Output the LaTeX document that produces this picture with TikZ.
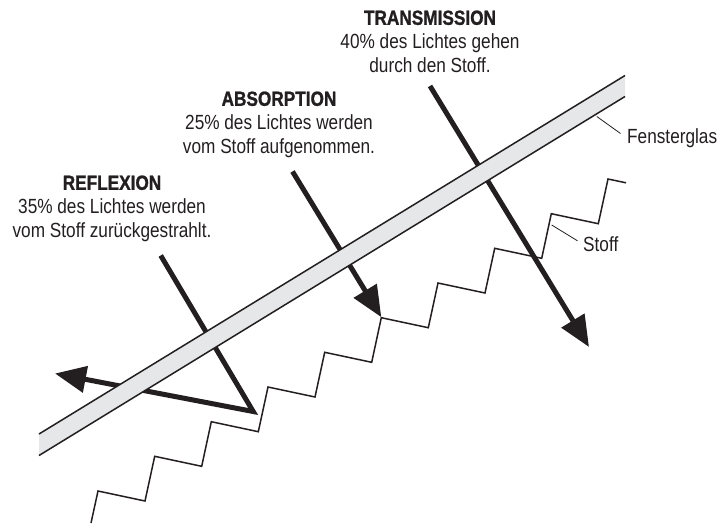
\documentclass[tikz,border=0pt]{standalone}
\usepackage{fontspec}
\setmainfont{Liberation Sans}[FakeStretch=0.84, BoldFeatures={FakeBold=1.2}]
\usetikzlibrary{arrows.meta}
\definecolor{ink}{HTML}{231F20}
\definecolor{glassfill}{HTML}{E6E7E8}
\tikzset{
  ray/.style={draw=ink, line width=5pt, line join=miter,
    -{Triangle[length=31pt,width=26pt]}},
  glassedge/.style={draw=ink, line width=1.5pt},
  stoffline/.style={draw=ink, line width=1.5pt, line join=miter},
  leader/.style={draw=ink, line width=0.8pt},
  txt/.style={font=\fontsize{20.5}{24}\selectfont, text=ink, align=center, inner sep=0pt},
  sidelabel/.style={font=\fontsize{20.5}{24}\selectfont, text=ink, inner sep=0pt}
}
\begin{document}
\begin{tikzpicture}[x=1pt,y=-1pt]
\useasboundingbox (0,0) rectangle (720,523);

% Stoff (zigzag)
\draw[stoffline] (91,523) -- (98,491) -- (145,501) -- (154.7,456.3) -- (201.7,466.3)
  -- (211.3,421.7) -- (258.3,431.7) -- (268,387) -- (315,397) -- (324.7,352.3)
  -- (371.7,362.3) -- (381.3,317.7) -- (428.3,327.7) -- (438,283) -- (485,293)
  -- (494.7,248.3) -- (541.7,258.3) -- (551.3,213.7) -- (598.3,223.7)
  -- (608,179) -- (626,182.8);

% rays
\coordinate (rS) at (160.7,255.5);
\coordinate (rV) at (253.2,411.5);
\coordinate (rE) at (55,373.5);
\coordinate (aS) at (292.5,171.5);
\coordinate (aE) at (381.3,317.2);
\coordinate (tS) at (430,86);
\coordinate (tE) at (589,347);
\draw[ray] (rS) -- (rV) -- (rE);
\draw[ray] (aS) -- (aE);
\draw[ray] (tS) -- (tE);

% Fensterglas band
\coordinate (gUL) at (39,434);
\coordinate (gUR) at (625,75.5);
\coordinate (gLR) at (625,96.5);
\coordinate (gLL) at (39,455.5);
\fill[glassfill] (gUL) -- (gUR) -- (gLR) -- (gLL) -- cycle;
\draw[glassedge] (gUL) -- (gUR);
\draw[glassedge] (gLL) -- (gLR);

% labels
\node[txt, anchor=north] (trans) at (430,10.3)
  {\textbf{TRANSMISSION}\\40\% des Lichtes gehen\\durch den Stoff.};
\node[txt, anchor=north] (abs) at (279,91.3)
  {\textbf{ABSORPTION}\\25\% des Lichtes werden\\vom Stoff aufgenommen.};
\node[txt, anchor=north] (refl) at (112,175.3)
  {\textbf{REFLEXION}\\35\% des Lichtes werden\\vom Stoff zurückgestrahlt.};

\node[sidelabel, anchor=base west] (glas) at (627,143.3) {Fensterglas};
\node[sidelabel, anchor=base west] (stoff) at (583,251.7) {Stoff};
\coordinate (glasP) at (596.8,116.5);
\coordinate (stoffP) at (551.7,225);
\draw[leader] (glasP) -- (620.5,133.5);
\draw[leader] (stoffP) -- (577.5,240.8);
\end{tikzpicture}
\end{document}
